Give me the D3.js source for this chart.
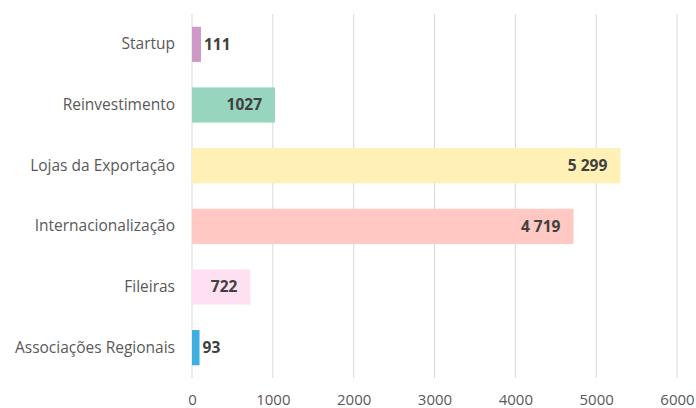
<!DOCTYPE html>
<html>
<head>
<meta charset="utf-8">
<script src="https://cdn.jsdelivr.net/npm/d3@7"></script>
<style>
	body { margin: 0; background: #fff; }
	text { font-family: "Open Sans", Roboto, sans-serif; }
</style>
</head>
<body>
<div id="chart"></div>
<script>
// data
var categories = ["Startup", "Reinvestimento", "Lojas da Exportação", "Internacionalização", "Fileiras", "Associações Regionais"];
var values = [111, 1027, 5299, 4719, 722, 93];
var valueLabels = ["111", "1027", "5 299", "4 719", "722", "93"];
var barColors = ["#cc99c9", "#97d5bf", "#fff0b5", "#ffc8c2", "#fde0f2", "#3eade0"];
var tickValues = [0, 1000, 2000, 3000, 4000, 5000, 6000];

var width = 696, height = 408;
var margin = {top: 14, left: 192, right: 19, bottom: 30};

var svg = d3.select("#chart")
	.append("svg")
	.attr("width", width)
	.attr("height", height);

var x = d3.scaleLinear()
	.domain([0, 6000])
	.range([margin.left, width - margin.right]);

var y = d3.scaleBand()
	.domain(categories)
	.range([margin.top, height - margin.bottom])
	.paddingInner(0.42)
	.paddingOuter(0.21);

// gridlines
svg.selectAll(".grid")
	.data(tickValues)
	.enter().append("line")
	.attr("class", "grid")
	.attr("x1", function(d){ return x(d); })
	.attr("x2", function(d){ return x(d); })
	.attr("y1", margin.top)
	.attr("y2", height - margin.bottom)
	.style("stroke", "#d9d9d9")
	.style("stroke-width", 1);

// x tick labels
var xAxis = svg.append("g")
	.attr("transform", "translate(0," + (height - margin.bottom) + ")")
	.call(d3.axisBottom(x).tickValues(tickValues).tickSize(0).tickPadding(16).tickFormat(d3.format("d")));
xAxis.select(".domain").remove();
xAxis.selectAll("text")
	.style("font-size", "15px")
	.style("fill", "#595959");

// y category labels
var yAxis = svg.append("g")
	.attr("transform", "translate(" + margin.left + ",0)")
	.call(d3.axisLeft(y).tickSize(0).tickPadding(17));
yAxis.select(".domain").remove();
yAxis.selectAll("text")
	.style("font-size", "15.5px")
	.style("fill", "#595959");

var rows = categories.map(function(c, i){
	return {name: c, value: values[i], label: valueLabels[i], color: barColors[i]};
});

svg.selectAll(".bar")
	.data(rows)
	.enter().append("rect")
	.attr("class", "bar")
	.attr("x", x(0))
	.attr("y", function(d){ return y(d.name); })
	.attr("width", function(d){ return x(d.value) - x(0); })
	.attr("height", y.bandwidth())
	.style("fill", function(d){ return d.color; });

// value labels: inside end when the bar is wide enough, otherwise just past it
svg.selectAll(".val")
	.data(rows)
	.enter().append("text")
	.attr("class", "val")
	.attr("x", function(d){
		var w = x(d.value) - x(0);
		return w > 40 ? x(d.value) - 13 : x(d.value) + 3;
	})
	.attr("y", function(d){ return y(d.name) + y.bandwidth() / 2; })
	.attr("dy", "0.35em")
	.attr("text-anchor", function(d){ return (x(d.value) - x(0)) > 40 ? "end" : "start"; })
	.style("font-size", "15.5px")
	.style("font-weight", "bold")
	.style("fill", "#404040")
	.text(function(d){ return d.label; });
</script>
</body>
</html>
